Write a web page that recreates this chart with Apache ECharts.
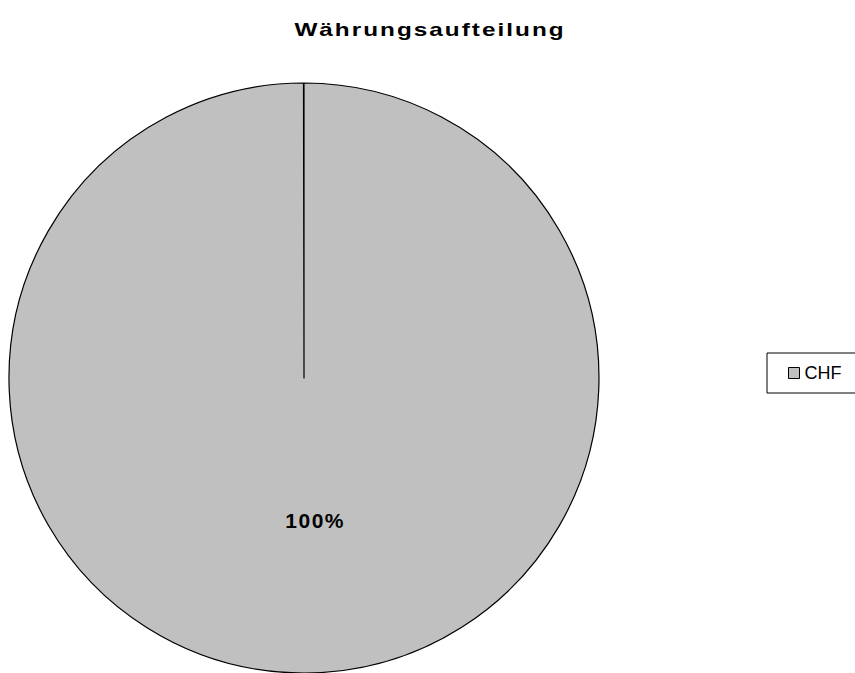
<!DOCTYPE html>
<html>
<head>
<meta charset="utf-8">
<script src="https://cdn.jsdelivr.net/npm/echarts@6/dist/echarts.min.js"></script>
<style>
  html, body { margin: 0; padding: 0; background: #fff; }
  #chart { width: 855px; height: 673px; }
</style>
</head>
<body>
<div id="chart"></div>
<script>
const titleText = "Währungsaufteilung";
const currencies = ["CHF"];
const shares = [100];

let chart = echarts.init(document.getElementById("chart"), null, { renderer: "svg" });
chart.setOption({
  animation: false,
  title: {
    text: titleText,
    left: 425,
    top: 16,
    textAlign: "center",
    textStyle: {
      fontFamily: "Liberation Sans, Arial",
      fontSize: 18,
      fontWeight: "bold",
      color: "#000"
    }
  },
  legend: {
    orient: "vertical",
    left: 767,
    top: 353,
    padding: [11, 22, 11, 21],
    borderColor: "#000",
    borderWidth: 1,
    itemWidth: 11,
    itemHeight: 11,
    icon: "rect",
    itemStyle: { borderColor: "#000", borderWidth: 1 },
    textStyle: {
      fontFamily: "Liberation Sans, Arial",
      fontSize: 18,
      color: "#000"
    },
    data: currencies
  },
  series: [
    {
      name: "Währung",
      type: "pie",
      center: [304, 378],
      radius: 295,
      // stop just short of a full turn so the radial edge at 12 o'clock is drawn
      startAngle: 90,
      endAngle: -269.9,
      clockwise: true,
      itemStyle: {
        color: "#c0c0c0",
        borderColor: "#000",
        borderWidth: 1.2
      },
      label: {
        show: true,
        position: "inside",
        formatter: "{d}%",
        fontFamily: "Liberation Sans, Arial",
        fontSize: 21,
        fontWeight: "bold",
        color: "#000",
        offset: [11, -8]
      },
      labelLine: { show: false },
      emphasis: { disabled: true },
      data: currencies.map((c, i) => ({ name: c, value: shares[i] }))
    }
  ]
});

// the original title is drawn wide and spaced
function spaceText() {
  document.querySelectorAll("#chart text").forEach(t => {
    if (t.textContent === titleText && !t.dataset.wide) {
      t.dataset.wide = "1";
      t.setAttribute("letter-spacing", "1.5");
      const b = t.getBBox();
      const cx = b.x + b.width / 2;
      const tr = t.getAttribute("transform") || "";
      t.setAttribute("transform", tr + " translate(" + cx + " 0) scale(1.35 1) translate(" + (-cx) + " 0)");
    }
    if (t.textContent === "100%") t.setAttribute("letter-spacing", "1.5");
  });
}
spaceText();
chart.on("finished", spaceText);
</script>
</body>
</html>
